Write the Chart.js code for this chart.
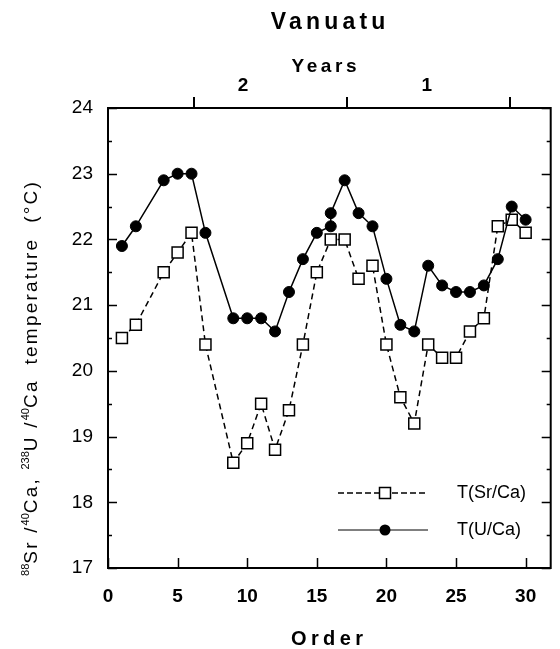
<!DOCTYPE html>
<html><head><meta charset="utf-8">
<script src="https://cdn.jsdelivr.net/npm/chart.js@4/dist/chart.umd.min.js"></script>
<style>html,body{margin:0;padding:0;background:#fff}canvas{display:block}</style>
</head><body>
<canvas id="c" width="560" height="649"></canvas>
<script>
// ---- data ----
const srOrder = [1,2,4,5,6,7,9,10,11,12,13,14,15,16,17,18,19,20,21,22,23,24,25,26,27,28,29,30];
const srTemp  = [20.5,20.7,21.5,21.8,22.1,20.4,18.6,18.9,19.5,18.8,19.4,20.4,21.5,22.0,22.0,21.4,21.6,20.4,19.6,19.2,20.4,20.2,20.2,20.6,20.8,22.2,22.3,22.1];
const uOrder  = [1,2,4,5,6,7,9,10,11,12,13,14,15,16,16,17,18,19,20,21,22,23,24,25,26,27,28,29,30];
const uTemp   = [21.9,22.2,22.9,23.0,23.0,22.1,20.8,20.8,20.8,20.6,21.2,21.7,22.1,22.2,22.4,22.9,22.4,22.2,21.4,20.7,20.6,21.6,21.3,21.2,21.2,21.3,21.7,22.5,22.3];
const xTicks  = [0,5,10,15,20,25,30];
const yTicks  = [17,18,19,20,21,22,23,24];
const yearTickPos   = [6.2,17.15,28.9];
const yearLabelPos  = [9.7,22.9];
const yearLabels    = ['2','1'];
const seriesNames   = ['T(Sr/Ca)','T(U/Ca)'];
const chartTitle = 'Vanuatu';
const topTitle = 'Years';
const bottomTitle = 'Order';
const yTitleParts = [['88',1],['Sr /',0],['40',1],['Ca, ',0],['238',1],['U /',0],['40',1],['Ca  temperature  (°C)',0]];

const FAM = '"Liberation Sans", Arial, Helvetica, sans-serif';

function spaced(ctx, text, cx, cy, font, ls){
  ctx.save();
  ctx.font = font; ctx.letterSpacing = ls + 'px';
  ctx.textBaseline = 'middle'; ctx.textAlign = 'left'; ctx.fillStyle = '#000';
  const w = ctx.measureText(text).width - ls;
  ctx.fillText(text, cx - w/2, cy);
  ctx.restore();
}

const decor = {
  id: 'decor',
  afterDraw(chart){
    const ctx = chart.ctx, a = chart.chartArea;
    const xs = chart.scales.x, ys = chart.scales.y;
    ctx.save();
    ctx.strokeStyle = '#000'; ctx.lineWidth = 2;
    ctx.strokeRect(a.left, a.top, a.right - a.left, a.bottom - a.top);
    ctx.lineWidth = 1.5;
    ctx.beginPath();
    for (let v = 17; v <= 24.001; v += 0.5){
      const py = Math.round(ys.getPixelForValue(v)) + 0.5;
      const L = (Math.abs(v - Math.round(v)) < 1e-6) ? 9 : 4;
      ctx.moveTo(a.left, py); ctx.lineTo(a.left + L, py);
      ctx.moveTo(a.right, py); ctx.lineTo(a.right - L, py);
    }
    xTicks.forEach(v => { const px = Math.round(xs.getPixelForValue(v)) + 0.5; ctx.moveTo(px, a.bottom); ctx.lineTo(px, a.bottom - 10); });
    ctx.stroke();
    ctx.lineWidth = 2;
    ctx.beginPath();
    yearTickPos.forEach(v => { const px = Math.round(xs.getPixelForValue(v)); ctx.moveTo(px, a.top); ctx.lineTo(px, a.top - 11); });
    ctx.stroke();

    // legend
    const lx0 = 338, lx1 = 428, lm = 385, tx = 457;
    const rows = [493, 530];
    ctx.lineWidth = 1.5;
    ctx.setLineDash([6,3]);
    ctx.beginPath(); ctx.moveTo(lx0, rows[0]); ctx.lineTo(lx1, rows[0]); ctx.stroke();
    ctx.setLineDash([]);
    ctx.lineWidth = 1;
    ctx.beginPath(); ctx.moveTo(lx0, rows[1]); ctx.lineTo(lx1, rows[1]); ctx.stroke();
    ctx.lineWidth = 1.5;
    ctx.fillStyle = '#fff'; ctx.fillRect(lm - 5.5, rows[0] - 5.5, 11, 11); ctx.strokeRect(lm - 5.5, rows[0] - 5.5, 11, 11);
    ctx.fillStyle = '#000'; ctx.beginPath(); ctx.arc(lm, rows[1], 5.5, 0, Math.PI * 2); ctx.fill();
    ctx.font = '18px ' + FAM; ctx.textBaseline = 'middle'; ctx.textAlign = 'left';
    ctx.fillText(seriesNames[0], tx, rows[0]);
    ctx.fillText(seriesNames[1], tx, rows[1]);
    ctx.restore();

    // titles
    spaced(ctx, chartTitle, 328, 23, 'bold 23px ' + FAM, 4.2);
    spaced(ctx, topTitle, 324, 67, 'bold 19px ' + FAM, 3.6);
    spaced(ctx, bottomTitle, 327, 639, 'bold 20px ' + FAM, 4.4);

    // rotated y title with superscripts
    ctx.save();
    ctx.translate(30, 378);
    ctx.rotate(-Math.PI / 2);
    ctx.fillStyle = '#000'; ctx.textBaseline = 'alphabetic'; ctx.textAlign = 'left';
    const mainFont = '19px ' + FAM, supFont = '11px ' + FAM, ls = 2.2;
    let total = 0;
    yTitleParts.forEach(([t, s]) => { ctx.font = s ? supFont : mainFont; ctx.letterSpacing = (s ? 0 : ls) + 'px'; total += ctx.measureText(t).width; });
    let x = -total / 2;
    yTitleParts.forEach(([t, s]) => {
      ctx.font = s ? supFont : mainFont; ctx.letterSpacing = (s ? 0 : ls) + 'px';
      ctx.fillText(t, x, s ? -1 : 7);
      x += ctx.measureText(t).width;
    });
    ctx.restore();
  }
};

const toPts = (xsArr, ysArr) => xsArr.map((x, i) => ({x: x, y: ysArr[i]}));

new Chart(document.getElementById('c'), {
  type: 'scatter',
  data: {
    datasets: [
      { label: seriesNames[1], data: toPts(uOrder, uTemp), showLine: true, tension: 0,
        borderColor: '#000', borderWidth: 1.5, pointStyle: 'circle', pointRadius: 5.5,
        pointBackgroundColor: '#000', pointBorderColor: '#000', pointBorderWidth: 1 },
      { label: seriesNames[0], data: toPts(srOrder, srTemp), showLine: true, tension: 0,
        borderColor: '#000', borderWidth: 1.5, borderDash: [6, 4], pointStyle: 'rect', pointRadius: 7.8,
        pointBackgroundColor: '#fff', pointBorderColor: '#000', pointBorderWidth: 1.5 }
    ]
  },
  options: {
    responsive: false, animation: false, devicePixelRatio: 1,
    layout: { padding: { left: 0, right: 2, top: 0, bottom: 0 } },
    plugins: { legend: { display: false }, title: { display: false }, tooltip: { enabled: false } },
    scales: {
      x: {
        type: 'linear', position: 'bottom', min: 0, max: 31.8,
        afterBuildTicks: s => { s.ticks = xTicks.map(v => ({value: v})); },
        afterFit: s => { s.height = 81; },
        grid: { display: false, drawTicks: false }, border: { display: false },
        ticks: { color: '#000', font: { family: FAM, size: 19, weight: 'bold' }, padding: 17, maxRotation: 0, autoSkip: false }
      },
      xTop: {
        type: 'linear', position: 'top', min: 0, max: 31.8,
        afterBuildTicks: s => { s.ticks = yearLabelPos.map(v => ({value: v})); },
        afterFit: s => { s.height = 108; },
        grid: { display: false, drawTicks: false }, border: { display: false },
        ticks: { color: '#000', font: { family: FAM, size: 19, weight: 'bold' }, padding: 11, maxRotation: 0, autoSkip: false,
          callback: (v, i) => yearLabels[i] }
      },
      y: {
        type: 'linear', position: 'left', min: 17, max: 24,
        afterBuildTicks: s => { s.ticks = yTicks.map(v => ({value: v})); },
        afterFit: s => { s.width = 108; },
        grid: { display: false, drawTicks: false }, border: { display: false },
        ticks: { color: '#000', font: { family: FAM, size: 19 }, padding: 15 }
      }
    }
  },
  plugins: [decor]
});
</script>
</body></html>
